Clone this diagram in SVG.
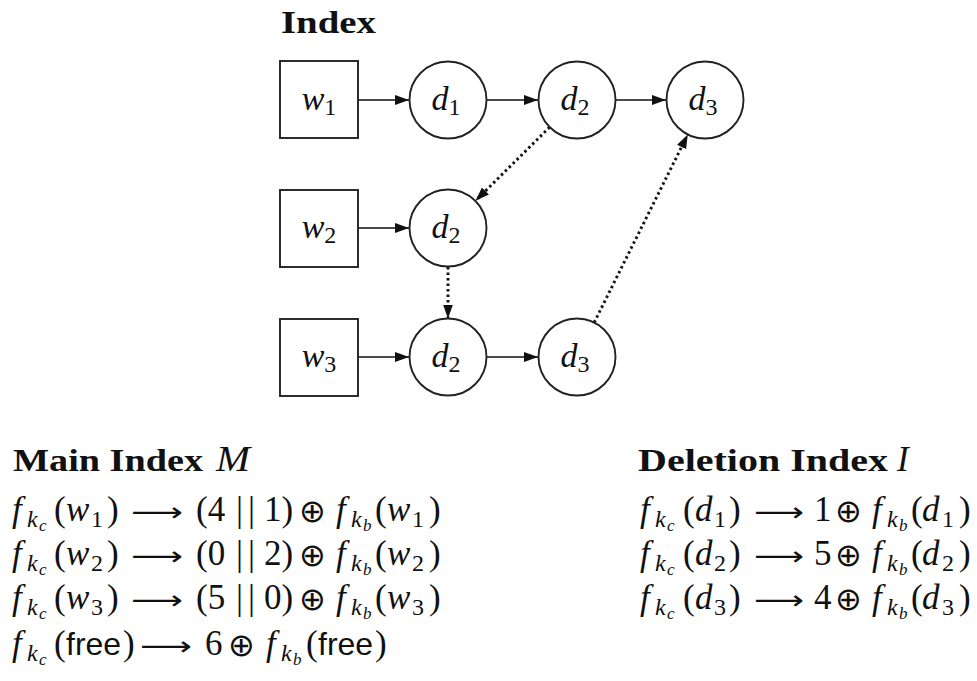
<svg xmlns="http://www.w3.org/2000/svg" width="977" height="681" viewBox="0 0 977 681">
<style>
.bg{fill:#fff}
.box{fill:#fff;stroke:#222;stroke-width:1.9}
.edge{stroke:#111;stroke-width:1.7;fill:none}
.dot{stroke:#111;stroke-width:2.9;fill:none;stroke-dasharray:2.5 3}
.t{font-family:"Liberation Serif",serif;font-size:35px;fill:#111}
.n{font-family:"Liberation Serif",serif;font-size:34px;fill:#111}
.i{font-style:italic}
.s{font-size:24px}
.ss{font-size:17px}
.h{font-family:"Liberation Serif",serif;font-size:31px;font-weight:bold;fill:#111}
.sym{font-family:"DejaVu Sans",sans-serif;font-size:32px;fill:#111}
.ar{font-family:"DejaVu Sans",sans-serif;font-size:26px;fill:#111}
.sf{font-family:"Liberation Sans",sans-serif;font-size:32px;fill:#111}
</style>
<defs>
<marker id="ah" markerUnits="userSpaceOnUse" markerWidth="15" markerHeight="11" refX="14" refY="5" orient="auto">
<path d="M0,0 L14,5 L0,10 z" fill="#111"/>
</marker>
</defs>
<rect class="bg" x="0" y="0" width="977" height="681"/>

<text class="h" x="281" y="33" textLength="95" lengthAdjust="spacingAndGlyphs">Index</text>

<g id="connectors">
<line class="edge" x1="358" y1="100" x2="409" y2="100" marker-end="url(#ah)"/>
<line class="edge" x1="487" y1="100" x2="538" y2="100" marker-end="url(#ah)"/>
<line class="edge" x1="616" y1="100" x2="666" y2="100" marker-end="url(#ah)"/>
<line class="edge" x1="358" y1="228" x2="409" y2="228" marker-end="url(#ah)"/>
<line class="edge" x1="358" y1="357" x2="409" y2="357" marker-end="url(#ah)"/>
<line class="edge" x1="487" y1="357" x2="538" y2="357" marker-end="url(#ah)"/>
<line class="dot" x1="549.7" y1="127.1" x2="475.5" y2="200.8" marker-end="url(#ah)"/>
<line class="dot" x1="448" y1="267" x2="448" y2="318.5" marker-end="url(#ah)"/>
<line class="dot" x1="594.2" y1="322.5" x2="687.8" y2="134.5" marker-end="url(#ah)"/>
</g>

<g id="w1"><rect class="box" x="280" y="61" width="78" height="77"/>
<text class="n" x="319" y="110" text-anchor="middle"><tspan class="i">w</tspan><tspan class="s" dy="5">1</tspan></text></g>
<g id="w2"><rect class="box" x="280" y="190" width="78" height="77"/>
<text class="n" x="319" y="238" text-anchor="middle"><tspan class="i">w</tspan><tspan class="s" dy="5">2</tspan></text></g>
<g id="w3"><rect class="box" x="280" y="319" width="78" height="77"/>
<text class="n" x="319" y="367" text-anchor="middle"><tspan class="i">w</tspan><tspan class="s" dy="5">3</tspan></text></g>

<g id="d1-row1"><circle class="box" cx="448" cy="100" r="38.5"/>
<text class="n" x="446" y="110" text-anchor="middle"><tspan class="i">d</tspan><tspan class="s" dy="5">1</tspan></text></g>
<g id="d2-row1"><circle class="box" cx="577" cy="100" r="38.5"/>
<text class="n" x="575" y="110" text-anchor="middle"><tspan class="i">d</tspan><tspan class="s" dy="5">2</tspan></text></g>
<g id="d3-row1"><circle class="box" cx="705" cy="100" r="38.5"/>
<text class="n" x="703" y="110" text-anchor="middle"><tspan class="i">d</tspan><tspan class="s" dy="5">3</tspan></text></g>
<g id="d2-row2"><circle class="box" cx="448" cy="228" r="38.5"/>
<text class="n" x="446" y="238" text-anchor="middle"><tspan class="i">d</tspan><tspan class="s" dy="5">2</tspan></text></g>
<g id="d2-row3"><circle class="box" cx="448" cy="357" r="38.5"/>
<text class="n" x="446" y="367" text-anchor="middle"><tspan class="i">d</tspan><tspan class="s" dy="5">2</tspan></text></g>
<g id="d3-row3"><circle class="box" cx="577" cy="357" r="38.5"/>
<text class="n" x="575" y="367" text-anchor="middle"><tspan class="i">d</tspan><tspan class="s" dy="5">3</tspan></text></g>

<g id="main-index">
<text class="h" x="13" y="471" textLength="190" lengthAdjust="spacingAndGlyphs">Main Index</text>
<text class="t i" x="216" y="471" textLength="34" lengthAdjust="spacingAndGlyphs">M</text>

<text class="t"><tspan class="i" x="12" y="521">f</tspan><tspan class="i s" x="27" y="527">k</tspan><tspan class="i ss" x="39" y="531">c</tspan><tspan x="54" y="521">(</tspan><tspan class="i" x="66" y="521">w</tspan><tspan class="s" x="91" y="527">1</tspan><tspan x="107" y="521">)</tspan><tspan x="196" y="521">(4</tspan><tspan x="236" y="521">|</tspan><tspan x="248" y="521">|</tspan><tspan x="264" y="521">1)</tspan><tspan class="i" x="336" y="521">f</tspan><tspan class="i s" x="351" y="527">k</tspan><tspan class="i ss" x="363" y="531">b</tspan><tspan x="375" y="521">(</tspan><tspan class="i" x="387" y="521">w</tspan><tspan class="s" x="412" y="527">1</tspan><tspan x="429" y="521">)</tspan></text>
<text class="ar" x="131" y="521" textLength="52" lengthAdjust="spacingAndGlyphs">⟶</text>
<text class="sym" x="299" y="522">⊕</text>

<text class="t"><tspan class="i" x="12" y="565">f</tspan><tspan class="i s" x="27" y="571">k</tspan><tspan class="i ss" x="39" y="575">c</tspan><tspan x="54" y="565">(</tspan><tspan class="i" x="66" y="565">w</tspan><tspan class="s" x="91" y="571">2</tspan><tspan x="107" y="565">)</tspan><tspan x="196" y="565">(0</tspan><tspan x="236" y="565">|</tspan><tspan x="248" y="565">|</tspan><tspan x="264" y="565">2)</tspan><tspan class="i" x="336" y="565">f</tspan><tspan class="i s" x="351" y="571">k</tspan><tspan class="i ss" x="363" y="575">b</tspan><tspan x="375" y="565">(</tspan><tspan class="i" x="387" y="565">w</tspan><tspan class="s" x="412" y="571">2</tspan><tspan x="429" y="565">)</tspan></text>
<text class="ar" x="131" y="565" textLength="52" lengthAdjust="spacingAndGlyphs">⟶</text>
<text class="sym" x="299" y="566">⊕</text>

<text class="t"><tspan class="i" x="12" y="609">f</tspan><tspan class="i s" x="27" y="615">k</tspan><tspan class="i ss" x="39" y="619">c</tspan><tspan x="54" y="609">(</tspan><tspan class="i" x="66" y="609">w</tspan><tspan class="s" x="91" y="615">3</tspan><tspan x="107" y="609">)</tspan><tspan x="196" y="609">(5</tspan><tspan x="236" y="609">|</tspan><tspan x="248" y="609">|</tspan><tspan x="264" y="609">0)</tspan><tspan class="i" x="336" y="609">f</tspan><tspan class="i s" x="351" y="615">k</tspan><tspan class="i ss" x="363" y="619">b</tspan><tspan x="375" y="609">(</tspan><tspan class="i" x="387" y="609">w</tspan><tspan class="s" x="412" y="615">3</tspan><tspan x="429" y="609">)</tspan></text>
<text class="ar" x="131" y="609" textLength="52" lengthAdjust="spacingAndGlyphs">⟶</text>
<text class="sym" x="299" y="610">⊕</text>

<text class="t"><tspan class="i" x="12" y="655">f</tspan><tspan class="i s" x="27" y="661">k</tspan><tspan class="i ss" x="39" y="665">c</tspan><tspan x="54" y="655">(</tspan><tspan x="123" y="655">)</tspan><tspan x="205" y="655">6</tspan><tspan class="i" x="266" y="655">f</tspan><tspan class="i s" x="281" y="661">k</tspan><tspan class="i ss" x="293" y="665">b</tspan><tspan x="306" y="655">(</tspan><tspan x="375" y="655">)</tspan></text>
<text class="sf" x="66" y="655">free</text>
<text class="sf" x="318" y="655">free</text>
<text class="ar" x="140" y="655" textLength="52" lengthAdjust="spacingAndGlyphs">⟶</text>
<text class="sym" x="228" y="656">⊕</text>
</g>

<g id="deletion-index">
<text class="h" x="638" y="471" textLength="250" lengthAdjust="spacingAndGlyphs">Deletion Index</text>
<text class="t i" x="897" y="471">I</text>

<text class="t"><tspan class="i" x="640" y="521">f</tspan><tspan class="i s" x="655" y="527">k</tspan><tspan class="i ss" x="667" y="531">c</tspan><tspan x="683" y="521">(</tspan><tspan class="i" x="695" y="521">d</tspan><tspan class="s" x="714" y="527">1</tspan><tspan x="729" y="521">)</tspan><tspan x="814" y="521">1</tspan><tspan class="i" x="872" y="521">f</tspan><tspan class="i s" x="887" y="527">k</tspan><tspan class="i ss" x="899" y="531">b</tspan><tspan x="911" y="521">(</tspan><tspan class="i" x="922" y="521">d</tspan><tspan class="s" x="942" y="527">1</tspan><tspan x="959" y="521">)</tspan></text>
<text class="ar" x="754" y="521" textLength="50" lengthAdjust="spacingAndGlyphs">⟶</text>
<text class="sym" x="835" y="522">⊕</text>

<text class="t"><tspan class="i" x="640" y="565">f</tspan><tspan class="i s" x="655" y="571">k</tspan><tspan class="i ss" x="667" y="575">c</tspan><tspan x="683" y="565">(</tspan><tspan class="i" x="695" y="565">d</tspan><tspan class="s" x="714" y="571">2</tspan><tspan x="729" y="565">)</tspan><tspan x="814" y="565">5</tspan><tspan class="i" x="872" y="565">f</tspan><tspan class="i s" x="887" y="571">k</tspan><tspan class="i ss" x="899" y="575">b</tspan><tspan x="911" y="565">(</tspan><tspan class="i" x="922" y="565">d</tspan><tspan class="s" x="942" y="571">2</tspan><tspan x="959" y="565">)</tspan></text>
<text class="ar" x="754" y="565" textLength="50" lengthAdjust="spacingAndGlyphs">⟶</text>
<text class="sym" x="835" y="566">⊕</text>

<text class="t"><tspan class="i" x="640" y="609">f</tspan><tspan class="i s" x="655" y="615">k</tspan><tspan class="i ss" x="667" y="619">c</tspan><tspan x="683" y="609">(</tspan><tspan class="i" x="695" y="609">d</tspan><tspan class="s" x="714" y="615">3</tspan><tspan x="729" y="609">)</tspan><tspan x="814" y="609">4</tspan><tspan class="i" x="872" y="609">f</tspan><tspan class="i s" x="887" y="615">k</tspan><tspan class="i ss" x="899" y="619">b</tspan><tspan x="911" y="609">(</tspan><tspan class="i" x="922" y="609">d</tspan><tspan class="s" x="942" y="615">3</tspan><tspan x="959" y="609">)</tspan></text>
<text class="ar" x="754" y="609" textLength="50" lengthAdjust="spacingAndGlyphs">⟶</text>
<text class="sym" x="835" y="610">⊕</text>
</g>
</svg>
